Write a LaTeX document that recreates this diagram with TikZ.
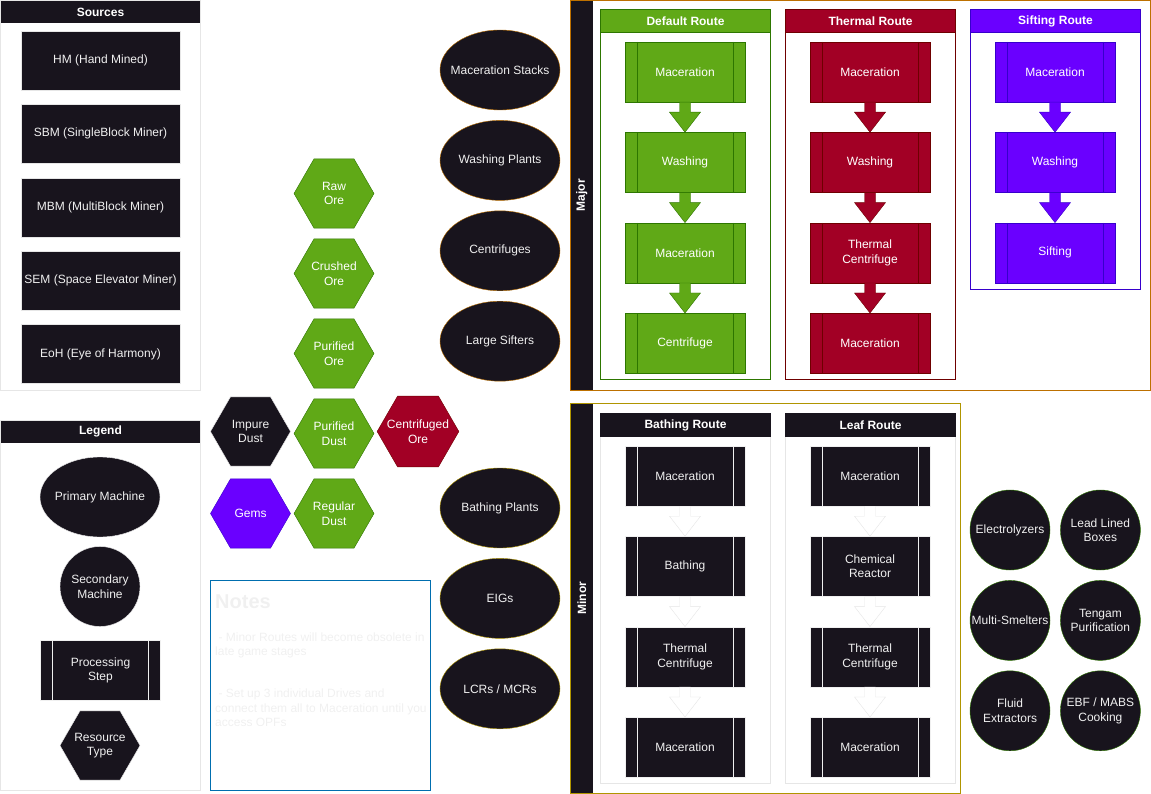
\documentclass[tikz,border=0pt]{standalone}
\usepackage{fontspec}
\setmainfont{Liberation Sans}
\usetikzlibrary{positioning,shapes.geometric}

\definecolor{darkbg}{HTML}{18141D}
\definecolor{lighttxt}{HTML}{F0F0F0}
\definecolor{paneline}{HTML}{E6E6E6}
\definecolor{greenfill}{HTML}{60A917}
\definecolor{greenline}{HTML}{2D7600}
\definecolor{redfill}{HTML}{A20025}
\definecolor{redline}{HTML}{6F0000}
\definecolor{purplefill}{HTML}{6A00FF}
\definecolor{purpleline}{HTML}{3700CC}
\definecolor{amberline}{HTML}{BD7000}
\definecolor{yellowline}{HTML}{B09500}
\definecolor{noteblue}{HTML}{006EAF}

\newcommand{\diagfont}{\fontsize{12}{14.5}\selectfont}
\newcommand{\steparrow}[3]{%
  \draw[#1] ([xshift=-5.5pt]#2.south) -- ([xshift=-5.5pt,yshift=-10pt]#2.south)
    -- ([xshift=-15.5pt,yshift=-10pt]#2.south) -- (#3.north)
    -- ([xshift=15.5pt,yshift=-10pt]#2.south) -- ([xshift=5.5pt,yshift=-10pt]#2.south)
    -- ([xshift=5.5pt]#2.south) -- cycle;}

\tikzset{
  txtbase/.style={font=\diagfont, align=center},
  pane/.style={draw=paneline, fill=white},
  headbar/.style={fill=darkbg, text=white, font=\diagfont\bfseries, minimum width=199pt, minimum height=22pt, inner sep=0pt},
  srcbox/.style={txtbase, draw=paneline, fill=darkbg, text=lighttxt, minimum width=159pt, minimum height=59pt, inner sep=0pt},
  ore/.style n args={2}{txtbase, regular polygon, regular polygon sides=6, fill=#1, draw=#2, text=white, minimum size=80pt, inner sep=-6pt},
  machine/.style={txtbase, ellipse, draw=#1, fill=darkbg, text=lighttxt, minimum width=120pt, minimum height=80pt, inner xsep=-12pt, inner ysep=0pt},
  helper/.style={txtbase, circle, draw=#1, fill=darkbg, text=lighttxt, minimum size=80pt, inner sep=-8pt},
  poolbar/.style={fill=darkbg, text=white, font=\diagfont\bfseries, rotate=90, minimum height=23pt, inner sep=0pt},
  lanehead/.style n args={2}{fill=#1, draw=#2, text=white, font=\diagfont\bfseries, minimum width=170pt, minimum height=23pt, inner sep=0pt},
  stepbox/.style n args={2}{txtbase, fill=#1, draw=#2, text=white, minimum width=120pt, minimum height=60pt, inner sep=0pt,
    path picture={\draw[#2] ([xshift=12pt]path picture bounding box.north west) -- ([xshift=12pt]path picture bounding box.south west)
      ([xshift=-12pt]path picture bounding box.north east) -- ([xshift=-12pt]path picture bounding box.south east);}},
  greenarrow/.style={fill=greenfill, draw=greenline},
  redarrow/.style={fill=redfill, draw=redline},
  purplearrow/.style={fill=purplefill, draw=purpleline},
  hollowarrow/.style={fill=white, draw=paneline},
  notetext/.style={font=\diagfont, text=lighttxt, align=left, inner sep=0pt}
}

\begin{document}
\begin{tikzpicture}[x=1pt,y=-1pt]
\useasboundingbox (0,0) rectangle (1151,794);

% sources and legend
\draw[pane] (0.5,0.5) rectangle (200,390);
\node[headbar] (srchead) at (100.5,12) {Sources};
\node[srcbox] (hm) at (100.5,60.5) {HM (Hand Mined)};
\node[srcbox, below=14pt of hm] (sbm) {SBM (SingleBlock Miner)};
\node[srcbox, below=14pt of sbm] (mbm) {MBM (MultiBlock Miner)};
\node[srcbox, below=14pt of mbm] (sem) {SEM (Space Elevator Miner)};
\node[srcbox, below=14pt of sem] (eoh) {EoH (Eye of Harmony)};

\draw[pane] (0.5,420.5) rectangle (200,790);
\node[headbar] (leghead) at (100.5,431.5) {Legend};
\node[machine=lighttxt] (legprimary) at (100,497) {Primary Machine};
\node[helper=lighttxt] (legsecondary) at (100,586.5) {Secondary\\Machine};
\node[stepbox={darkbg}{lighttxt}, text=lighttxt] (legstep) at (100.5,670.5) {Processing\\Step};
\node[ore={darkbg}{lighttxt}, text=lighttxt] (legres) at (100,745.5) {Resource\\Type};

% resource types
\node[ore={greenfill}{greenline}] (rawore) at (334,193.5) {Raw\\Ore};
\node[ore={greenfill}{greenline}] (crushedore) at (334,273.5) {Crushed\\Ore};
\node[ore={greenfill}{greenline}] (purifiedore) at (334,353.5) {Purified\\Ore};
\node[ore={greenfill}{greenline}] (purifieddust) at (334,433.5) {Purified\\Dust};
\node[ore={greenfill}{greenline}] (regulardust) at (334,513.5) {Regular\\Dust};
\node[ore={darkbg}{lighttxt}, text=lighttxt] (impuredust) at (250.5,431.5) {Impure\\Dust};
\node[ore={redfill}{redline}] (centore) at (418,431.5) {Centrifuged\\Ore};
\node[ore={purplefill}{purpleline}] (gems) at (250.5,513.5) {Gems};

% notes
\draw[noteblue] (210.5,580.5) rectangle (430.5,790.5);
\node[notetext, anchor=base west] (notehead) at (215,608) {\fontsize{20}{24}\selectfont\bfseries Notes};
\node[notetext, anchor=base west] (notebody) at (215,726.5) {\ - Minor Routes will become obsolete in\\late game stages\\[27.5pt]\ - Set up 3 individual Drives and\\connect them all to Maceration until you\\access OPFs};

% machines
\node[machine=amberline] (macstack) at (500,70) {Maceration Stacks};
\node[machine=amberline, below=10pt of macstack] (washplant) {Washing Plants};
\node[machine=amberline, below=10pt of washplant] (centrifuges) {Centrifuges};
\node[machine=amberline, below=10pt of centrifuges] (sifters) {Large Sifters};
\node[machine=yellowline] (bathplant) at (500,508) {Bathing Plants};
\node[machine=yellowline, below=10pt of bathplant] (eigs) {EIGs};
\node[machine=yellowline, below=10pt of eigs] (lcrs) {LCRs / MCRs};

\node[helper=greenline] (electro) at (1010,530) {Electrolyzers};
\node[helper=greenline, right=10pt of electro] (leadbox) {Lead Lined\\Boxes};
\node[helper=greenline, below=10pt of electro] (smelters) {Multi-Smelters};
\node[helper=greenline, below=10pt of leadbox] (tengam) {Tengam\\Purification};
\node[helper=greenline, below=10pt of smelters] (fluidex) {Fluid\\Extractors};
\node[helper=greenline, below=10pt of tengam] (ebf) {EBF / MABS\\Cooking};

% major routes
\fill[white] (570.5,0.5) rectangle (1150.5,390);
\node[poolbar, minimum width=389pt] (majorbar) at (581.75,195.25) {Major};
\draw[amberline] (570.5,0.5) rectangle (1150.5,390);

\draw[greenline, fill=white] (600.5,9.5) rectangle (770.5,379.5);
\node[lanehead={greenfill}{greenline}] (defhead) at (685.5,21) {Default Route};
\node[stepbox={greenfill}{greenline}] (dmac1) at (685,72) {Maceration};
\node[stepbox={greenfill}{greenline}, below=30pt of dmac1] (dwash) {Washing};
\node[stepbox={greenfill}{greenline}, below=30pt of dwash] (dmac2) {Maceration};
\node[stepbox={greenfill}{greenline}, below=30pt of dmac2] (dcent) {Centrifuge};
\foreach \a/\b in {dmac1/dwash, dwash/dmac2, dmac2/dcent}
  \steparrow{greenarrow}{\a}{\b};

\draw[redline, fill=white] (785.5,9.5) rectangle (955.5,379.5);
\node[lanehead={redfill}{redline}] (thhead) at (870.5,21) {Thermal Route};
\node[stepbox={redfill}{redline}] (tmac1) at (870,72) {Maceration};
\node[stepbox={redfill}{redline}, below=30pt of tmac1] (twash) {Washing};
\node[stepbox={redfill}{redline}, below=30pt of twash] (tcent) {Thermal\\Centrifuge};
\node[stepbox={redfill}{redline}, below=30pt of tcent] (tmac2) {Maceration};
\foreach \a/\b in {tmac1/twash, twash/tcent, tcent/tmac2}
  \steparrow{redarrow}{\a}{\b};

\draw[purpleline, fill=white] (970.5,9.5) rectangle (1140.5,289.5);
\node[lanehead={purplefill}{purpleline}] (sifthead) at (1055.5,21) {Sifting Route};
\node[stepbox={purplefill}{purpleline}] (smac) at (1055,72) {Maceration};
\node[stepbox={purplefill}{purpleline}, below=30pt of smac] (swash) {Washing};
\node[stepbox={purplefill}{purpleline}, below=30pt of swash] (sift) {Sifting};
\foreach \a/\b in {smac/swash, swash/sift}
  \steparrow{purplearrow}{\a}{\b};

% minor routes
\fill[white] (570.5,403.5) rectangle (960.5,793);
\node[poolbar, minimum width=389pt] (minorbar) at (581.75,598.25) {Minor};
\draw[yellowline] (570.5,403.5) rectangle (960.5,793);

\draw[pane] (600.5,414.5) rectangle (770.5,783.5);
\node[lanehead={darkbg}{darkbg}] (bathhead) at (685.5,425) {Bathing Route};
\node[stepbox={darkbg}{lighttxt}, text=lighttxt] (bmac1) at (685,476) {Maceration};
\node[stepbox={darkbg}{lighttxt}, text=lighttxt, below=30pt of bmac1] (bbath) {Bathing};
\node[stepbox={darkbg}{lighttxt}, text=lighttxt, below=30pt of bbath] (bcent) {Thermal\\Centrifuge};
\node[stepbox={darkbg}{lighttxt}, text=lighttxt, below=30pt of bcent] (bmac2) {Maceration};
\foreach \a/\b in {bmac1/bbath, bbath/bcent, bcent/bmac2}
  \steparrow{hollowarrow}{\a}{\b};

\draw[pane] (785.5,414.5) rectangle (955.5,783.5);
\node[lanehead={darkbg}{darkbg}] (leafhead) at (870.5,425) {Leaf Route};
\node[stepbox={darkbg}{lighttxt}, text=lighttxt] (lmac1) at (870,476) {Maceration};
\node[stepbox={darkbg}{lighttxt}, text=lighttxt, below=30pt of lmac1] (lchem) {Chemical\\Reactor};
\node[stepbox={darkbg}{lighttxt}, text=lighttxt, below=30pt of lchem] (lcent) {Thermal\\Centrifuge};
\node[stepbox={darkbg}{lighttxt}, text=lighttxt, below=30pt of lcent] (lmac2) {Maceration};
\foreach \a/\b in {lmac1/lchem, lchem/lcent, lcent/lmac2}
  \steparrow{hollowarrow}{\a}{\b};
\end{tikzpicture}
\end{document}
